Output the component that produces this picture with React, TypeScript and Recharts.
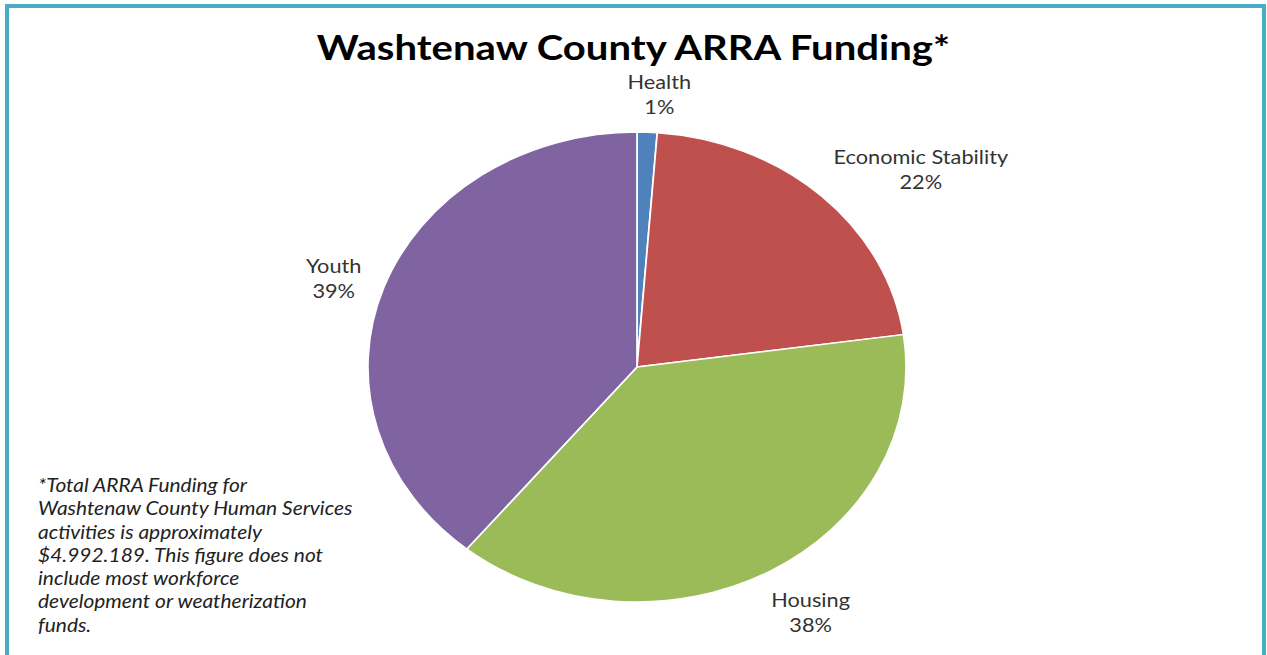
import { PieChart, Pie, Cell } from 'recharts';

const categories = ['Health', 'Economic Stability', 'Housing', 'Youth'];
const shares = [1.2, 21.6, 38.1, 39.1];
const sliceColors = ['#4F81BD', '#C0504D', '#9BBB59', '#8064A2'];

const footnoteLines = [
  '*Total ARRA Funding for',
  'Washtenaw County Human Services',
  'activities is approximately',
  '$4.992.189. This figure does not',
  'include most workforce',
  'development or weatherization',
  'funds.',
];

const chartData = categories.map((name, i) => ({ name, value: shares[i] }));

// the source picture is stretched horizontally, so every layer gets the same scaleX
const CX = 637;
const CY = 367;
const RADIUS = 235;
const STRETCH = 1.145;
const RAD = Math.PI / 180;

const renderLabel = (props: any) => {
  const { midAngle, outerRadius, name, percent } = props;
  const cos = Math.cos(-midAngle * RAD);
  const sin = Math.sin(-midAngle * RAD);
  const r = outerRadius + 20;
  const w = String(name).length * 12;
  const h = 44;
  // screen-space centre of the label box, mapped back into the stretched svg
  const sx = CX + r * cos * STRETCH + (w / 2) * cos + (cos > 0 ? 10 : 0);
  const sy = CY + r * sin + (h / 2) * sin;
  const x = CX + (sx - CX) / STRETCH;
  return (
    <text
      x={x}
      y={sy}
      textAnchor="middle"
      fill="#333"
      fontSize={19}
      fontFamily="Lato, 'Open Sans', sans-serif"
    >
      <tspan x={x} dy={-1}>{name}</tspan>
      <tspan x={x} dy={25}>{`${Math.round(percent * 100)}%`}</tspan>
    </text>
  );
};

export default function App() {
  return (
    <div style={{ position: 'absolute', left: 0, top: 0, width: 1267, height: 655, overflow: 'hidden', background: '#fff' }}>
      <div
        style={{
          position: 'absolute',
          left: 5,
          top: 4,
          width: 1253,
          height: 700,
          border: '4px solid #4BACC6',
          borderBottom: 'none',
        }}
      />
      <div
        style={{
          position: 'absolute',
          left: 0,
          top: 0,
          width: 1267,
          height: 655,
          transform: `scaleX(${STRETCH})`,
          transformOrigin: `${CX}px ${CY}px`,
        }}
      >
        <PieChart width={1267} height={655} margin={{ top: 0, right: 0, bottom: 0, left: 0 }}>
          <Pie
            data={chartData}
            dataKey="value"
            nameKey="name"
            cx={CX}
            cy={CY}
            outerRadius={RADIUS}
            startAngle={90}
            endAngle={-270}
            stroke="#fff"
            strokeWidth={1.5}
            label={renderLabel}
            labelLine={false}
            isAnimationActive={false}
          >
            {chartData.map((d, i) => (
              <Cell key={d.name} fill={sliceColors[i]} />
            ))}
          </Pie>
        </PieChart>
      </div>
      <div
        style={{
          position: 'absolute',
          left: 0,
          width: 1267,
          top: 25,
          textAlign: 'center',
          fontFamily: 'Lato, sans-serif',
          fontWeight: 700,
          fontSize: 35,
          color: '#000',
          transform: `scaleX(${STRETCH})`,
          transformOrigin: '634px 0px',
        }}
      >
        Washtenaw County ARRA Funding*
      </div>
      <div
        style={{
          position: 'absolute',
          left: 38,
          top: 474,
          fontFamily: 'Lato, sans-serif',
          fontStyle: 'italic',
          fontSize: 18.3,
          lineHeight: '23.3px',
          color: '#222',
          transform: `scaleX(${STRETCH})`,
          transformOrigin: '0px 0px',
          whiteSpace: 'nowrap',
        }}
      >
        {footnoteLines.map((l) => (
          <div key={l}>{l}</div>
        ))}
      </div>
    </div>
  );
}
